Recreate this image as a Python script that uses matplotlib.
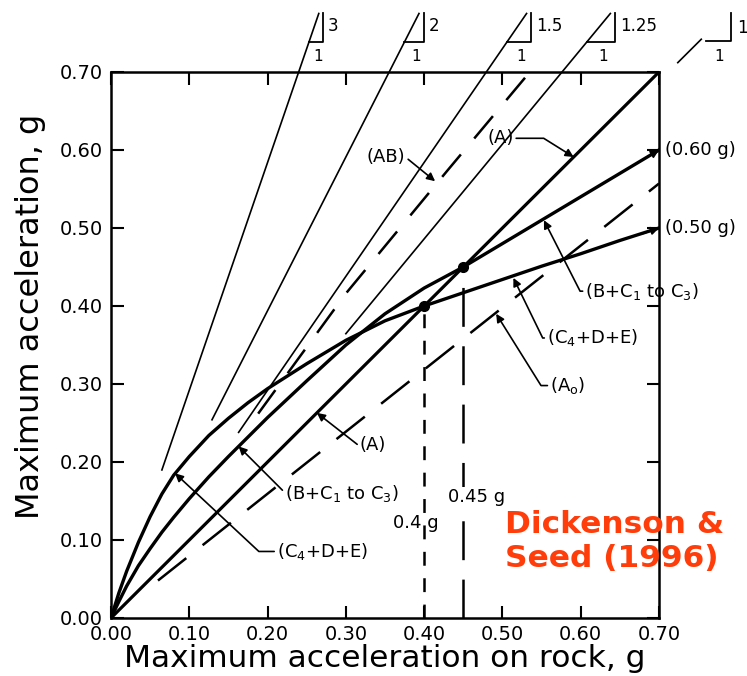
import matplotlib.pyplot as plt
import numpy as np

plt.rcParams['lines.scale_dashes'] = False

# slope lines (thin), start x and slope
slope_labels = ['3', '2', '1.5', '1.25']
slopes = [2.92, 1.97, 1.46, 1.215]
slope_start = [0.065, 0.129, 0.163, 0.30]
top_y = 0.775

# curves: max acceleration at surface vs rock
rock = [0.0, 0.01, 0.02, 0.035, 0.05, 0.065, 0.08, 0.10, 0.125, 0.15, 0.175, 0.20,
        0.25, 0.30, 0.35, 0.40, 0.45, 0.50, 0.55, 0.60, 0.65, 0.70]
c4de = [0.0, 0.032, 0.060, 0.097, 0.130, 0.159, 0.183, 0.207, 0.234, 0.256, 0.276,
        0.294, 0.326, 0.356, 0.381, 0.400, 0.417, 0.434, 0.451, 0.467, 0.484, 0.500]
bc = [0.0, 0.021, 0.041, 0.067, 0.089, 0.110, 0.129, 0.153, 0.181, 0.207, 0.232,
      0.257, 0.304, 0.350, 0.390, 0.423, 0.450, 0.480, 0.510, 0.540, 0.570, 0.600]

# dashed lines
ab_x = [0.188, 0.30, 0.43, 0.535]
ab_y = [0.262, 0.416, 0.574, 0.700]
ao_x = [0.06, 0.70]
ao_y = [0.048, 0.557]

fig = plt.figure(figsize=(7.47, 6.76), dpi=100)
ax = fig.add_axes([0.1486, 0.0858, 0.7336, 0.8077])
ax.set_xlim(0, 0.7)
ax.set_ylim(0, 0.7)

# 1:1 line (A)
ax.plot([0, 0.7], [0, 0.7], color='black', lw=2.3, solid_capstyle='butt')

# slope lines with little triangles above the frame
for lab, s, x0 in zip(slope_labels, slopes, slope_start):
    ax.plot([x0, top_y / s], [x0 * s, top_y], color='black', lw=1.2, clip_on=False)
    h = 0.037
    yb = top_y - h
    xb = yb / s
    xv = xb + h / s + 0.006
    ax.plot([xb, xv, xv], [yb, yb, top_y], color='black', lw=1.3, clip_on=False)
    ax.text(xv + 0.006, yb + h * 0.55, lab, fontsize=12, ha='left', va='center')
    ax.text((xb + xv) / 2 + 0.003, yb - 0.018, '1', fontsize=11, ha='center', va='center')

# 1:1 indicator at top right
ax.plot([0.724, 0.754], [0.712, 0.742], color='black', lw=1.2, clip_on=False)
ax.plot([0.76, 0.792, 0.792], [0.740, 0.740, 0.775], color='black', lw=1.3, clip_on=False)
ax.text(0.777, 0.72, '1', fontsize=11, ha='center', va='center')
ax.text(0.8, 0.757, '1', fontsize=12, ha='left', va='center')

# curves
ax.plot(rock, c4de, color='black', lw=2.4)
ax.plot(rock, bc, color='black', lw=2.4)

# dashed lines
ax.plot(ab_x, ab_y, color='black', lw=1.8, ls=(0, (21, 15)))
ax.plot(ao_x, ao_y, color='black', lw=1.8, ls=(0, (26, 15)))

# vertical reference lines
ax.plot([0.4, 0.4], [0, 0.4], color='black', lw=1.8, ls=(0, (10, 9)))
ax.plot([0.45, 0.45], [0, 0.45], color='black', lw=1.8, ls=(0, (28, 14)))
ax.plot([0.4, 0.45], [0.4, 0.45], 'o', color='black', ms=7)

ax.text(0.389, 0.122, '0.4 g', fontsize=13, ha='center', va='center')
ax.text(0.467, 0.155, '0.45 g', fontsize=13, ha='center', va='center',
        bbox=dict(facecolor='white', edgecolor='none', pad=0.5))

# leaders and labels
arrow = dict(arrowstyle='-|>', color='black', lw=1.2, mutation_scale=12, shrinkA=0, shrinkB=0)
fs = 13


def label(txt, xy, xytext, angB, ha='left', conn=None):
    a = dict(arrow)
    a['connectionstyle'] = conn or 'angle,angleA=0,angleB=%g,rad=0' % angB
    a['relpos'] = (0, 0.5) if ha == 'left' else (1, 0.5)
    ax.annotate(txt, xy=xy, xytext=xytext, fontsize=fs, ha=ha, va='center',
                arrowprops=a, annotation_clip=False)


label('(A)', (0.263, 0.263), (0.318, 0.222), -38)
label('(B+C$_1$ to C$_3$)', (0.163, 0.22), (0.2225, 0.16), -45)
label('(C$_4$+D+E)', (0.0818, 0.1855), (0.212, 0.0853), -43)
label('(AB)', (0.414, 0.56), (0.376, 0.591), 0, ha='right', conn='arc3,rad=0')
label('(A)', (0.591, 0.591), (0.514, 0.615), -32, ha='right')
label('(B+C$_1$ to C$_3$)', (0.553, 0.51), (0.606, 0.419), -63)
label('(C$_4$+D+E)', (0.514, 0.436), (0.557, 0.359), -64)
label('(A$_\\mathrm{o}$)', (0.492, 0.39), (0.561, 0.298), -58)

ax.annotate('', xy=(0.7, 0.6), xytext=(0.68, 0.588), arrowprops=arrow)
ax.annotate('', xy=(0.7, 0.5), xytext=(0.68, 0.493), arrowprops=arrow)
ax.text(0.708, 0.6, '(0.60 g)', fontsize=fs, ha='left', va='center')
ax.text(0.708, 0.5, '(0.50 g)', fontsize=fs, ha='left', va='center')

ax.text(0.503, 0.098, 'Dickenson &\nSeed (1996)', fontsize=22.5, fontweight='bold',
        color='#ff3d0a', ha='left', va='center', linespacing=1.2)

ticks = np.arange(0, 0.71, 0.1)
ax.set_xticks(ticks)
ax.set_yticks(ticks)
ax.set_xticklabels(['%.2f' % t for t in ticks], fontsize=14)
ax.set_yticklabels(['%.2f' % t for t in ticks], fontsize=14)
ax.tick_params(direction='in', length=9, width=1.5, top=True, right=True)
ax.tick_params(axis='x', pad=5)
ax.tick_params(axis='y', pad=6)
for sp in ax.spines.values():
    sp.set_linewidth(1.8)

ax.set_xlabel('Maximum acceleration on rock, g', fontsize=22.5, labelpad=0)
ax.set_ylabel('Maximum acceleration, g', fontsize=23)
ax.yaxis.set_label_coords(-0.118, 0.553)

fig.savefig('out.png', dpi=100)
